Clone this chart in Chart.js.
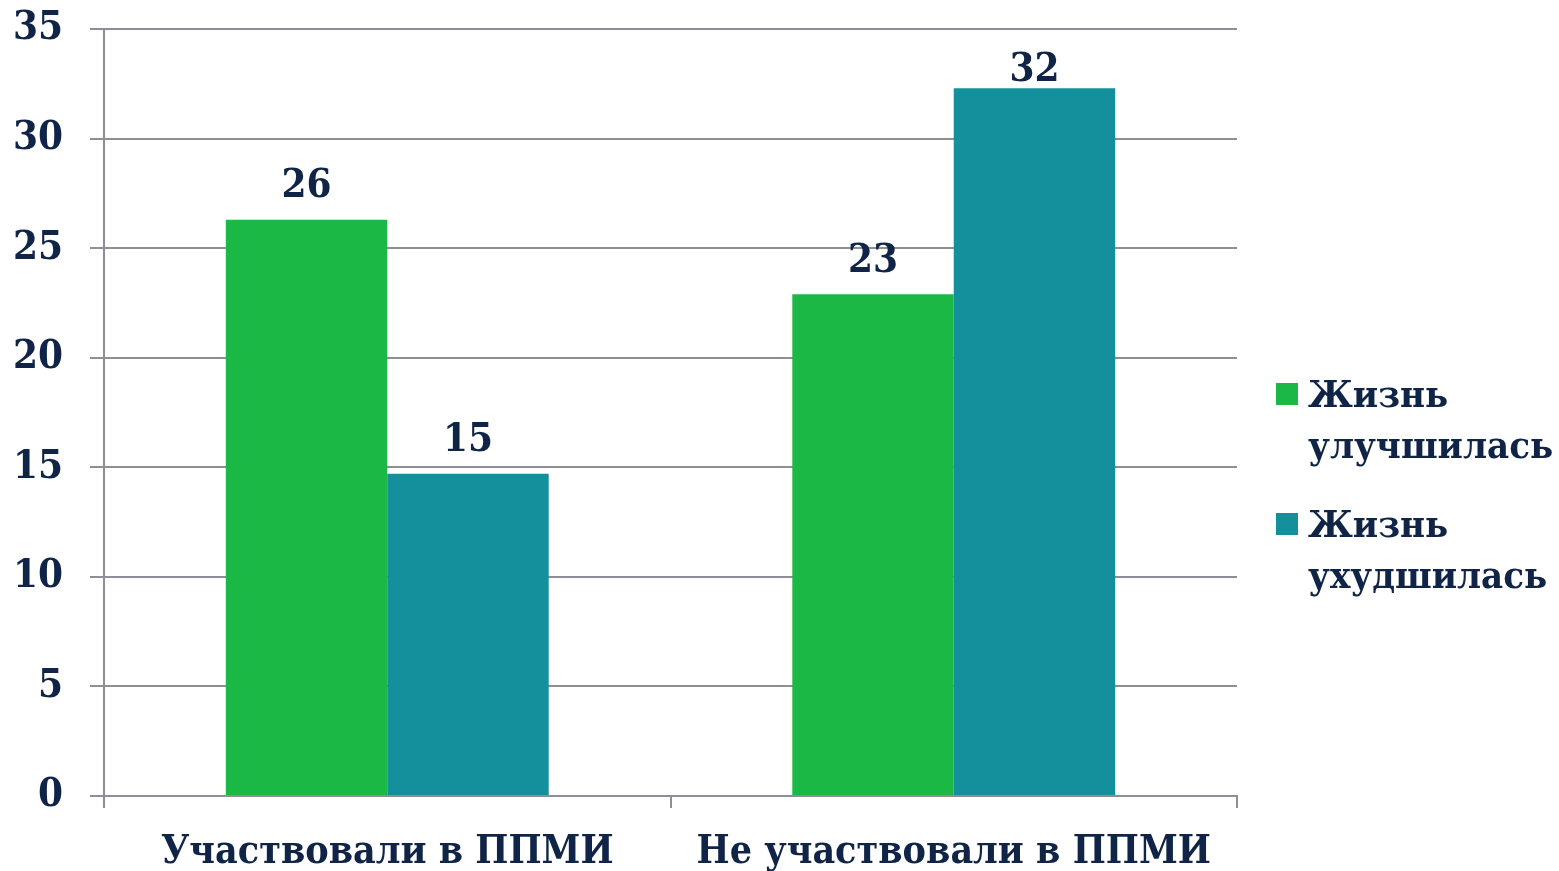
<!DOCTYPE html>
<html>
<head>
<meta charset="utf-8">
<script src="https://cdn.jsdelivr.net/npm/chart.js@4.4.0/dist/chart.umd.min.js"></script>
<style>
  html, body { margin: 0; padding: 0; background: #fff; }
  #wrap { width: 1559px; height: 871px; }
</style>
</head>
<body>
<div id="wrap"><canvas id="grafico"></canvas></div>
<script>
// datos del gráfico
const categorias = ['Участвовали в ППМИ', 'Не участвовали в ППМИ'];
const series = ['Жизнь улучшилась', 'Жизнь ухудшилась'];
const mejoro = [26.3, 22.9];
const empeoro = [14.7, 32.3];
const ticksY = [0, 5, 10, 15, 20, 25, 30, 35];

const colorTexto = '#0F2446';
const colorGrid = '#8E8F96';
const fuente = '"DejaVu Serif Condensed", "DejaVu Serif", serif';

// etiquetas de valor encima de las barras
const etiquetasValor = {
    id: 'etiquetasValor',
    afterDatasetsDraw(chart) {
        const ctx = chart.ctx;
        ctx.save();
        ctx.font = 'bold 40px ' + fuente;
        ctx.fillStyle = colorTexto;
        ctx.textAlign = 'center';
        ctx.textBaseline = 'middle';
        chart.data.datasets.forEach(function(ds, i) {
            chart.getDatasetMeta(i).data.forEach(function(bar, j) {
                let y = Math.max(bar.y - 33, chart.chartArea.top + 42);
                ctx.fillText(Math.round(ds.data[j]), bar.x, y);
            });
        });
        ctx.restore();
    }
};

// leyenda a la derecha, en dos líneas
const leyenda = {
    id: 'leyenda',
    afterDraw(chart) {
        const ctx = chart.ctx;
        const x = chart.chartArea.right + 39;
        ctx.save();
        ctx.font = 'bold 38px ' + fuente;
        ctx.textBaseline = 'alphabetic';
        ctx.textAlign = 'left';
        chart.data.datasets.forEach(function(ds, i) {
            const base = 407 + i * 130;
            ctx.fillStyle = ds.backgroundColor;
            ctx.fillRect(x, base - 24, 22, 22);
            ctx.fillStyle = colorTexto;
            ds.label.split(' ').forEach(function(linea, k) {
                ctx.fillText(linea, x + 32, base + k * 51);
            });
        });
        ctx.restore();
    }
};

new Chart(document.getElementById('grafico'), {
    type: 'bar',
    data: {
        labels: categorias,
        datasets: [{
            label: series[0],
            data: mejoro,
            backgroundColor: '#1BB845',
            borderWidth: 0
        }, {
            label: series[1],
            data: empeoro,
            backgroundColor: '#14909D',
            borderWidth: 0
        }]
    },
    options: {
        responsive: true,
        maintainAspectRatio: false,
        animation: false,
        barPercentage: 1,
        categoryPercentage: 0.57,
        layout: { padding: { top: 29, right: 322, left: 0, bottom: 0 } },
        plugins: {
            legend: { display: false },
            tooltip: { enabled: false }
        },
        scales: {
            x: {
                afterFit: function(s) {
                    s.height = 75;
                    s.paddingLeft = 0;
                    s.paddingRight = 0;
                },
                grid: {
                    drawOnChartArea: false,
                    drawTicks: true,
                    tickLength: 12,
                    color: colorGrid,
                    lineWidth: 2
                },
                border: { color: colorGrid, width: 2 },
                ticks: {
                    color: colorTexto,
                    font: { family: fuente, size: 39, weight: 'bold' },
                    padding: 21
                }
            },
            y: {
                min: 0,
                max: 35,
                afterFit: function(s) {
                    s.width = 104;
                    s.paddingTop = 0;
                    s.paddingBottom = 0;
                },
                afterBuildTicks: function(s) {
                    s.ticks = ticksY.map(function(v) { return { value: v }; });
                },
                grid: {
                    color: colorGrid,
                    lineWidth: 2,
                    tickLength: 14
                },
                border: { color: colorGrid, width: 2 },
                ticks: {
                    color: colorTexto,
                    font: { family: fuente, size: 40, weight: 'bold' },
                    padding: 27
                }
            }
        }
    },
    plugins: [etiquetasValor, leyenda]
});
</script>
</body>
</html>
